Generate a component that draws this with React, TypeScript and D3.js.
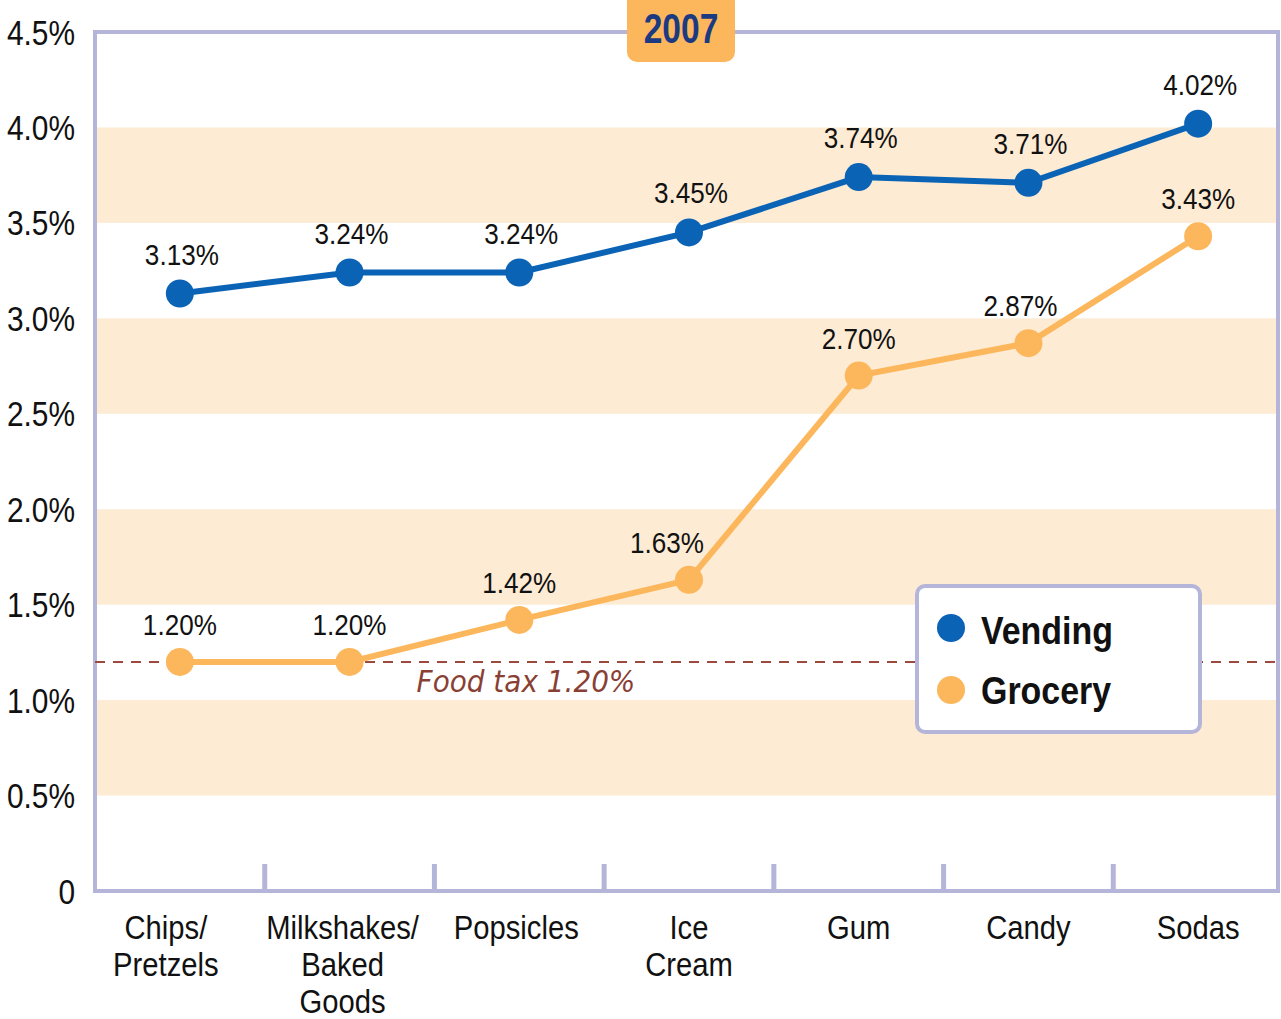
import React from "react";
import * as d3 from "d3";

const categories = ["Chips/\nPretzels", "Milkshakes/\nBaked\nGoods", "Popsicles", "Ice\nCream", "Gum", "Candy", "Sodas"];
const vending = [3.13, 3.24, 3.24, 3.45, 3.74, 3.71, 4.02];
const grocery = [1.2, 1.2, 1.42, 1.63, 2.7, 2.87, 3.43];
const yTicks = [0, 0.5, 1.0, 1.5, 2.0, 2.5, 3.0, 3.5, 4.0, 4.5];
const bandRanges = [[0.5, 1.0], [1.5, 2.0], [2.5, 3.0], [3.5, 4.0]];
const foodTax = 1.2;
const title = "2007";
const seriesNames = ["Vending", "Grocery"];

const W = 1281;
const H = 1019;
const BLUE = "#0b63b5";
const ORANGE = "#fcb75c";
const FRAME = "#b5b5d9";
const BAND = "#fdebd4";
const FONT = "'Liberation Sans', Arial, sans-serif";

function CText({ x, y, sx = 0.85, size, anchor = "middle", weight = "normal", fill = "#1a1a1a", family = FONT, italic = false, children }: any) {
  return (
    <text
      transform={`translate(${x},${y}) scale(${sx},1)`}
      textAnchor={anchor}
      dominantBaseline="central"
      fontSize={size}
      fontWeight={weight}
      fontStyle={italic ? "italic" : "normal"}
      fontFamily={family}
      fill={fill}
    >
      {children}
    </text>
  );
}

export default function App() {
  const left = 95, right = 1278, top = 32, bottom = 891;
  const x = d3.scaleBand<string>().domain(categories).range([95, 1283]);
  const y = d3.scaleLinear().domain([0, 4.5]).range([bottom, top]);
  const cx = (i: number) => (x(categories[i]) as number) + x.bandwidth() / 2;
  const line = d3.line<number>().x((_, i) => cx(i)).y((d) => y(d));
  const fmt = (v: number) => v.toFixed(2) + "%";
  const tickFmt = (v: number) => (v === 0 ? "0" : v.toFixed(1) + "%");

  return (
    <svg width={W} height={H} style={{ position: "absolute", left: 0, top: 0, background: "#fff" }}>
      {bandRanges.map(([a, b], i) => (
        <rect key={i} x={left} y={y(b)} width={right - left} height={y(a) - y(b)} fill={BAND} />
      ))}
      <path d={`M${left},${top} H${right} V${bottom} H${left} Z`} fill="none" stroke={FRAME} strokeWidth={4} />
      {categories.slice(1).map((c, i) => (
        <line key={i} x1={x(c)} x2={x(c)} y1={864} y2={bottom} stroke={FRAME} strokeWidth={5} />
      ))}
      {yTicks.map((t) => (
        <CText key={t} x={75} y={y(t)} size={36} sx={0.83} anchor="end" fill="#111">{tickFmt(t)}</CText>
      ))}
      {categories.map((c, i) => (
        <g key={c}>
          {c.split("\n").map((ln, j) => (
            <CText key={j} x={cx(i) - (i === 0 ? 14 : i === 1 ? 7 : i === 2 ? 3 : 0)} y={927 + j * 37} size={34} sx={0.86} fill="#111">{ln}</CText>
          ))}
        </g>
      ))}
      <line x1={left} x2={right} y1={y(foodTax)} y2={y(foodTax)} stroke="#9c4a3c" strokeWidth={2} strokeDasharray="10,8" />
      <CText x={526} y={y(foodTax) + 20} size={31} sx={0.9} fill="#8a3f35" italic family="'DejaVu Sans', Verdana, sans-serif">Food tax 1.20%</CText>
      <path d={line(grocery) as string} fill="none" stroke={ORANGE} strokeWidth={6} />
      <path d={line(vending) as string} fill="none" stroke={BLUE} strokeWidth={6} />
      {grocery.map((v, i) => (
        <circle key={"g" + i} cx={cx(i)} cy={y(v)} r={14} fill={ORANGE} />
      ))}
      {vending.map((v, i) => (
        <circle key={"v" + i} cx={cx(i)} cy={y(v)} r={14} fill={BLUE} />
      ))}
      {vending.map((v, i) => (
        <CText key={"vl" + i} x={cx(i) + 2} y={y(v) - 39} size={29} sx={0.9} fill="#111">{fmt(v)}</CText>
      ))}
      {grocery.map((v, i) => (
        <CText key={"gl" + i} x={cx(i) - (i === 3 ? 22 : i === 5 ? 8 : 0)} y={y(v) - 37} size={29} sx={0.9} fill="#111">{fmt(v)}</CText>
      ))}
      <rect x={917} y={586} width={283} height={146} rx={8} fill="#fff" stroke={FRAME} strokeWidth={4} />
      <circle cx={951} cy={628} r={14} fill={BLUE} />
      <circle cx={951} cy={690} r={14} fill={ORANGE} />
      <CText x={981} y={631} size={39} sx={0.87} anchor="start" weight="bold" fill="#111">{seriesNames[0]}</CText>
      <CText x={981} y={691} size={39} sx={0.87} anchor="start" weight="bold" fill="#111">{seriesNames[1]}</CText>
      <rect x={627} y={-8} width={108} height={70} rx={10} fill={ORANGE} />
      <CText x={681} y={28} size={43} sx={0.78} weight="bold" fill="#1b3a82">{title}</CText>
    </svg>
  );
}
